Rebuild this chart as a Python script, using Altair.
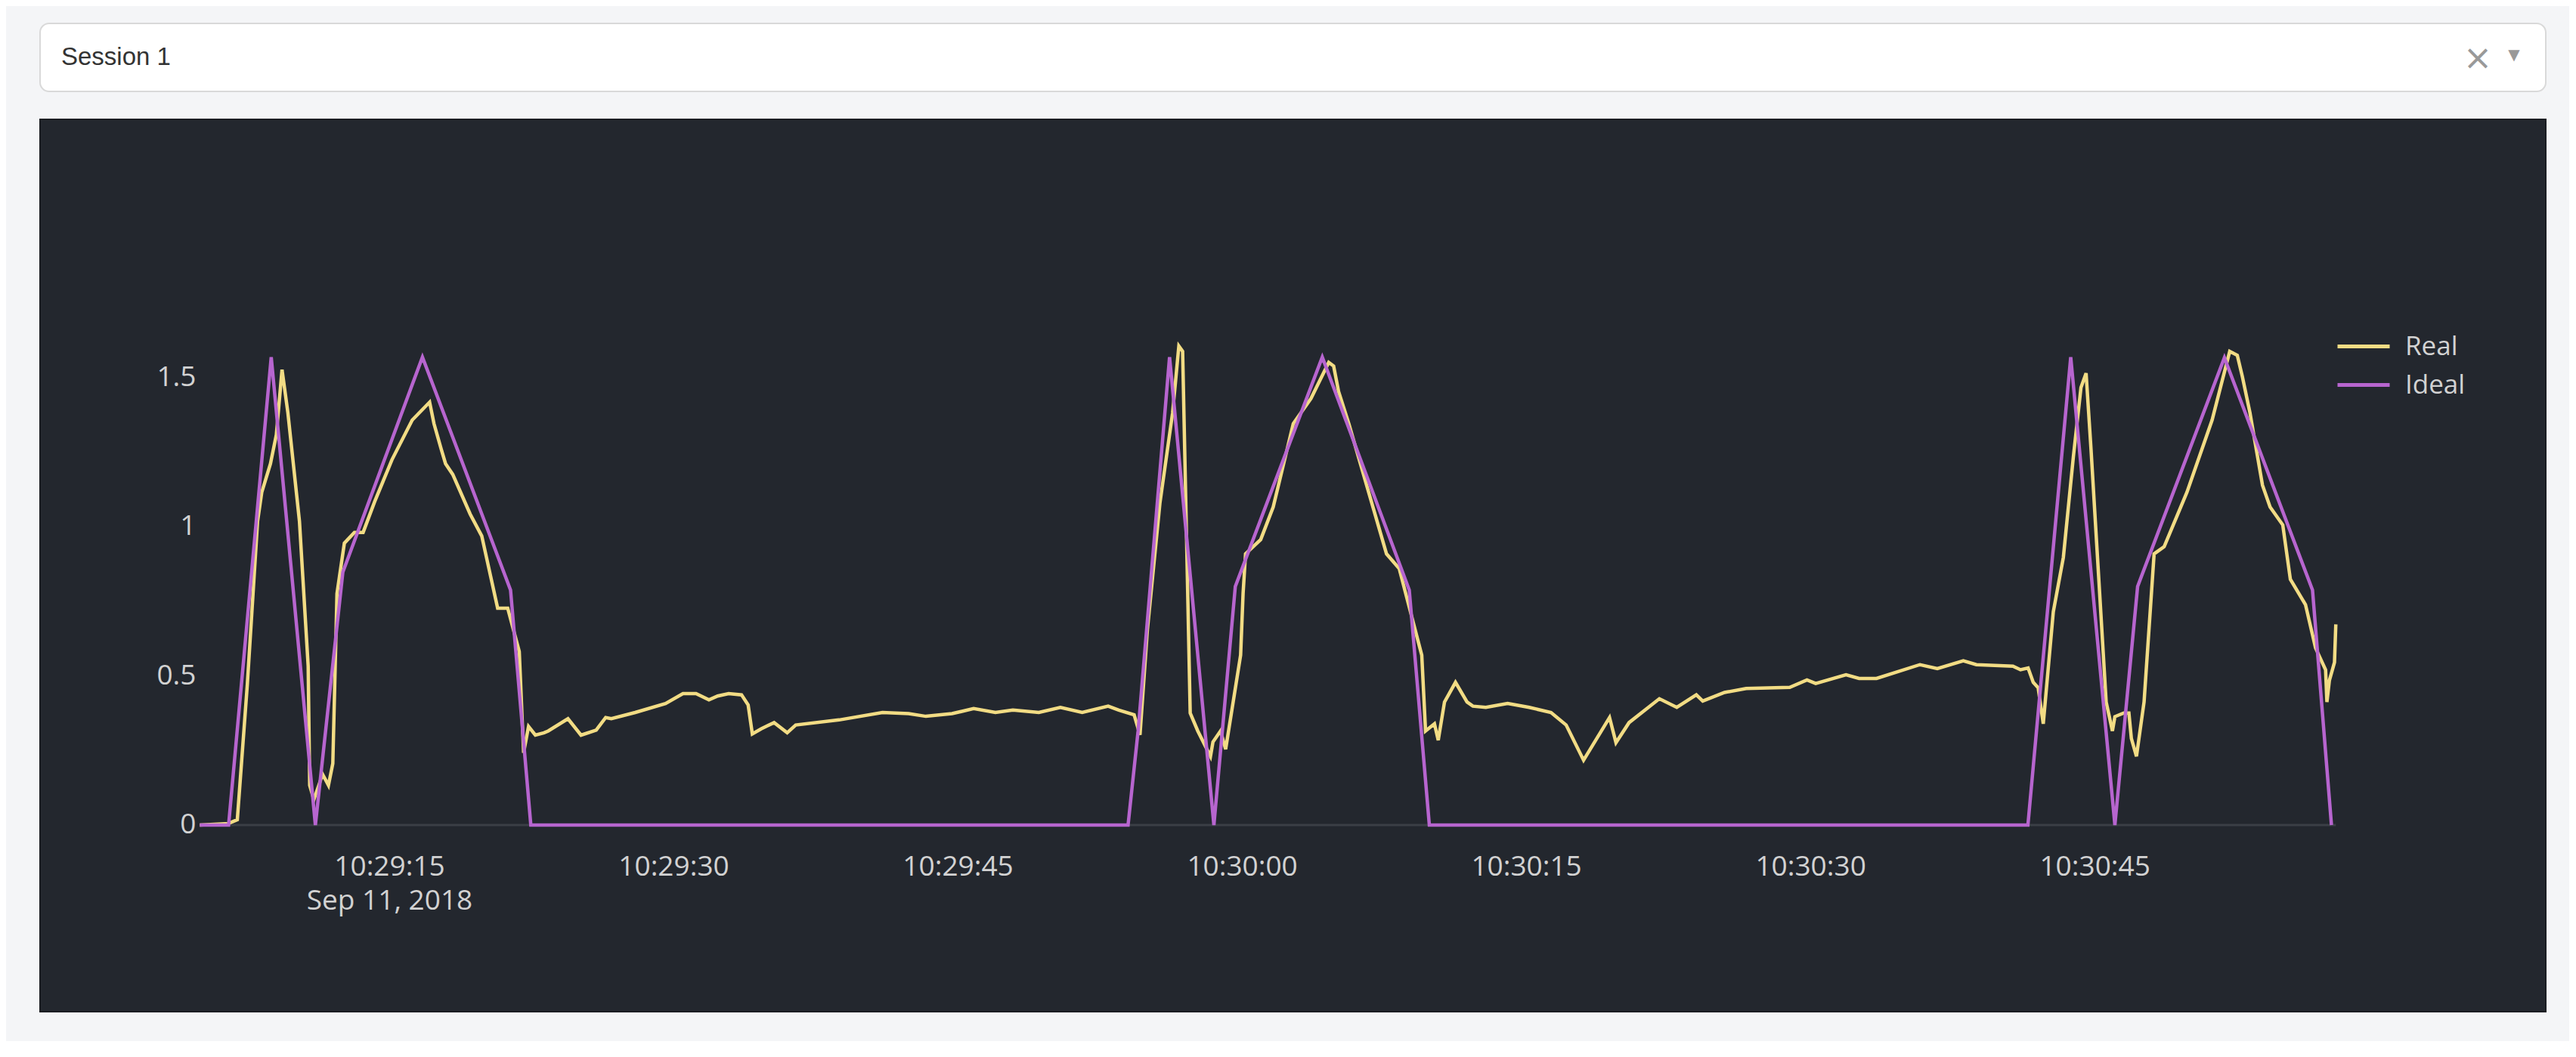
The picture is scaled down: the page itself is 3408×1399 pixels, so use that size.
import altair as alt
import pandas as pd
from datetime import datetime, timezone

# ---------------- data (seconds after 2018-09-11 10:29:00 UTC) ----------------
ideal_t = [5.0, 6.52, 8.77, 11.10, 12.55, 16.75, 21.40, 22.47,
           53.99, 54.52, 56.18, 58.52, 59.65, 64.24, 68.83, 69.89,
           101.48, 101.95, 103.74, 106.07, 107.27, 111.85, 116.50, 117.50]
ideal_v = [0, 0, 1.567, 0, 0.847, 1.567, 0.787, 0,
           0, 0.315, 1.567, 0, 0.799, 1.567, 0.787, 0,
           0, 0.327, 1.567, 0, 0.799, 1.565, 0.787, 0]

real_t = [5.0, 6.5, 6.98, 7.51, 8.05, 8.27, 8.73, 9.04, 9.34, 9.65, 10.26, 10.72,
          10.80, 11.02, 11.48, 11.79, 12.02, 12.24, 12.63, 13.16, 13.62, 14.23,
          15.14, 16.21, 17.13, 17.36, 17.74, 17.97, 18.35, 19.27, 19.88, 20.72,
          21.25, 21.86, 22.09, 22.35, 22.71, 23.17, 23.39, 24.43, 25.12, 25.92,
          26.42, 26.72, 27.98, 29.58, 30.50, 31.19, 31.87, 32.33, 32.91, 33.59,
          33.94, 34.16, 34.62, 35.31, 36.00, 36.45, 38.74, 41.03, 42.41, 43.32,
          44.70, 45.84, 46.99, 47.91, 49.28, 50.42, 51.57, 52.94, 53.50, 54.31,
          54.62, 55.01, 55.67, 56.34, 56.67, 56.87, 57.27, 57.67, 58.34, 58.47,
          58.87, 59.14, 59.93, 60.06, 60.19, 60.99, 61.65, 62.71, 63.64, 64.58,
          64.84, 65.10, 65.64, 67.63, 68.30, 69.49, 69.69, 70.16, 70.36, 70.69,
          71.27, 71.88, 72.19, 72.87, 74.02, 75.16, 76.31, 77.11, 78.03, 79.40,
          79.74, 80.43, 82.03, 82.95, 83.98, 84.32, 85.47, 86.61, 88.91, 89.82,
          90.28, 91.88, 92.57, 93.49, 95.78, 96.70, 98.07, 98.76, 100.69, 101.09,
          101.49, 101.76, 102.02, 102.29, 102.82, 103.35, 103.88, 104.28, 104.55,
          104.81, 105.61, 105.94, 106.07, 106.54, 106.81, 106.94, 107.21, 107.61,
          108.14, 108.67, 109.87, 111.20, 112.13, 112.53, 112.80, 113.20, 113.86,
          114.26, 114.93, 115.33, 116.13, 116.66, 117.19, 117.26, 117.39, 117.66,
          117.73]
real_v = [0.0, 0.005, 0.018, 0.472, 1.017, 1.114, 1.21, 1.307, 1.525, 1.38, 1.017, 0.532,
          0.133, 0.085, 0.170, 0.133, 0.206, 0.775, 0.944, 0.98, 0.98, 1.083,
          1.223, 1.356, 1.416, 1.344, 1.259, 1.21, 1.174, 1.041, 0.968, 0.726,
          0.726, 0.581, 0.242, 0.33, 0.301, 0.309, 0.315, 0.356, 0.301, 0.318,
          0.36, 0.356, 0.377, 0.407, 0.44, 0.44, 0.419, 0.432, 0.44, 0.436,
          0.402, 0.305, 0.322, 0.343, 0.309, 0.335, 0.352, 0.377, 0.373, 0.364,
          0.373, 0.39, 0.377, 0.385, 0.377, 0.394, 0.377, 0.398, 0.385, 0.369,
          0.302, 0.654, 1.077, 1.38, 1.604, 1.586, 0.375, 0.315, 0.23, 0.278,
          0.315, 0.254, 0.569, 0.775, 0.908, 0.956, 1.065, 1.344, 1.428, 1.549,
          1.537, 1.452, 1.344, 0.908, 0.859, 0.569, 0.315, 0.339, 0.284, 0.412,
          0.478, 0.412, 0.398, 0.394, 0.407, 0.394, 0.377, 0.335, 0.217, 0.36,
          0.276, 0.343, 0.423, 0.394, 0.436, 0.415, 0.444, 0.457, 0.461, 0.486,
          0.474, 0.503, 0.491, 0.491, 0.537, 0.524, 0.55, 0.537, 0.532, 0.52,
          0.526, 0.478, 0.46, 0.339, 0.714, 0.896, 1.234, 1.465, 1.513,
          1.259, 0.412, 0.315, 0.363, 0.375, 0.375, 0.29, 0.23, 0.412,
          0.908, 0.932, 1.114, 1.356, 1.586, 1.573, 1.501, 1.38, 1.138,
          1.065, 1.005, 0.823, 0.738, 0.593, 0.52, 0.412, 0.484, 0.545,
          0.672]

series_names = ["Real", "Ideal"]
series_colors = ["#f2dc84", "#b765cf"]
x_tick_labels = ["10:29:15", "10:29:30", "10:29:45", "10:30:00",
                 "10:30:15", "10:30:30", "10:30:45"]
y_tick_values = [0, 0.5, 1, 1.5]
x_view_secs = [-3.43, 128.81]       # visible time window (s after 10:29:00)
y_view = [-0.625, 2.363]
dropdown_label = "Session 1"

# ---------------- helpers ----------------
def iso(t):
    total = 29 * 60 + t
    mm = int(total // 60)
    ss = total - mm * 60
    return f"2018-09-11T10:{mm:02d}:{ss:06.3f}Z"

BASE = datetime(2018, 9, 11, 10, 29, 0, tzinfo=timezone.utc).timestamp() * 1000.0

def ms_from_secs(t):
    return BASE + t * 1000.0

def ms_from_hms(s):
    h, m, sec = [int(p) for p in s.split(":")]
    return datetime(2018, 9, 11, h, m, sec, tzinfo=timezone.utc).timestamp() * 1000.0

rows = []
for t, v in zip(real_t, real_v):
    rows.append({"time": iso(t), "value": v, "series": "Real"})
for t, v in zip(ideal_t, ideal_v):
    rows.append({"time": iso(t), "value": v, "series": "Ideal"})
df = pd.DataFrame(rows)

zero_df = pd.DataFrame({
    "start": [iso(min(real_t[0], ideal_t[0]))],
    "end": [iso(max(real_t[-1], ideal_t[-1]))],
})

FONT = "Open Sans"
TXT = "#d2d2d2"
BG = "#23272e"

x_enc = alt.X(
    "time:T",
    scale=alt.Scale(type="utc", domain=[ms_from_secs(x_view_secs[0]), ms_from_secs(x_view_secs[1])]),
    axis=alt.Axis(
        title=None, grid=False, domain=False, ticks=False, tickSize=0,
        values=[ms_from_hms(s) for s in x_tick_labels],
        labelExpr="datum.index == 0 ? [utcFormat(datum.value, '%H:%M:%S'), utcFormat(datum.value, '%b %-d, %Y')] : utcFormat(datum.value, '%H:%M:%S')",
        labelFont=FONT, labelFontSize=37, labelColor=TXT, labelPadding=37,
        labelLineHeight=45, labelOverlap=False, labelFlush=False, labelBound=False,
        labelLimit=0, offset=-247,
    ),
)
y_enc = alt.Y(
    "value:Q",
    scale=alt.Scale(domain=y_view, nice=False, zero=False),
    axis=alt.Axis(
        title=None, grid=False, domain=False, ticks=False, tickSize=0,
        values=y_tick_values, format="~g",
        labelFont=FONT, labelFontSize=37, labelColor=TXT, labelPadding=3,
        labelLimit=0, offset=-209,
    ),
)
color_enc = alt.Color(
    "series:N",
    scale=alt.Scale(domain=series_names, range=series_colors),
    sort=series_names,
    legend=alt.Legend(
        title=None, orient="none", legendX=3037, legendY=402, padding=0,
        symbolType="stroke", symbolSize=4761, symbolStrokeWidth=5,
        clipHeight=51, rowPadding=0, labelOffset=18,
        labelFont=FONT, labelFontSize=35, labelColor=TXT, labelLimit=0,
    ),
)

zero_line = alt.Chart(zero_df).mark_rule(color="#3b3f46", strokeWidth=3).encode(
    x=alt.X("start:T"), x2="end:T", y=alt.datum(0)
)
real_line = alt.Chart(df).transform_filter(alt.datum.series == "Real").mark_line(
    strokeWidth=4.5).encode(x=x_enc, y=y_enc, color=color_enc)
ideal_line = alt.Chart(df).transform_filter(alt.datum.series == "Ideal").mark_line(
    strokeWidth=4.5).encode(x=x_enc, y=y_enc, color=color_enc)

panel = alt.layer(zero_line, real_line, ideal_line).properties(
    width=3315, height=1181,
    view=alt.ViewBackground(fill=BG, stroke="#1a1d22", strokeWidth=2),
)

dd_df = pd.DataFrame({"label": [dropdown_label]})
dd_text = alt.Chart(dd_df).mark_text(
    align="left", baseline="middle", fontSize=33, font="Liberation Sans", color="#333333"
).encode(text="label:N", x=alt.value(28), y=alt.value(45))
dd_clear = alt.Chart(dd_df).mark_text(
    text="×", align="center", baseline="middle", fontSize=46, font="DejaVu Sans", color="#999999"
).encode(x=alt.value(3225), y=alt.value(47))
dd_arrow = alt.Chart(dd_df).mark_text(
    text="▼", align="center", baseline="middle", fontSize=20, font="DejaVu Sans", color="#999999"
).encode(x=alt.value(3273), y=alt.value(42))

dropdown = alt.layer(dd_text, dd_clear, dd_arrow).properties(
    width=3315, height=90,
    view=alt.ViewBackground(fill="white", stroke="#d9d9d9", strokeWidth=2, cornerRadius=12),
)

chart = alt.vconcat(dropdown, panel, spacing=35).properties(
    padding={"left": 44, "top": 22, "right": 30, "bottom": 38},
).configure(background="#f4f5f7")

chart.save("out.html", embed_options={"renderer": "svg", "actions": False})
